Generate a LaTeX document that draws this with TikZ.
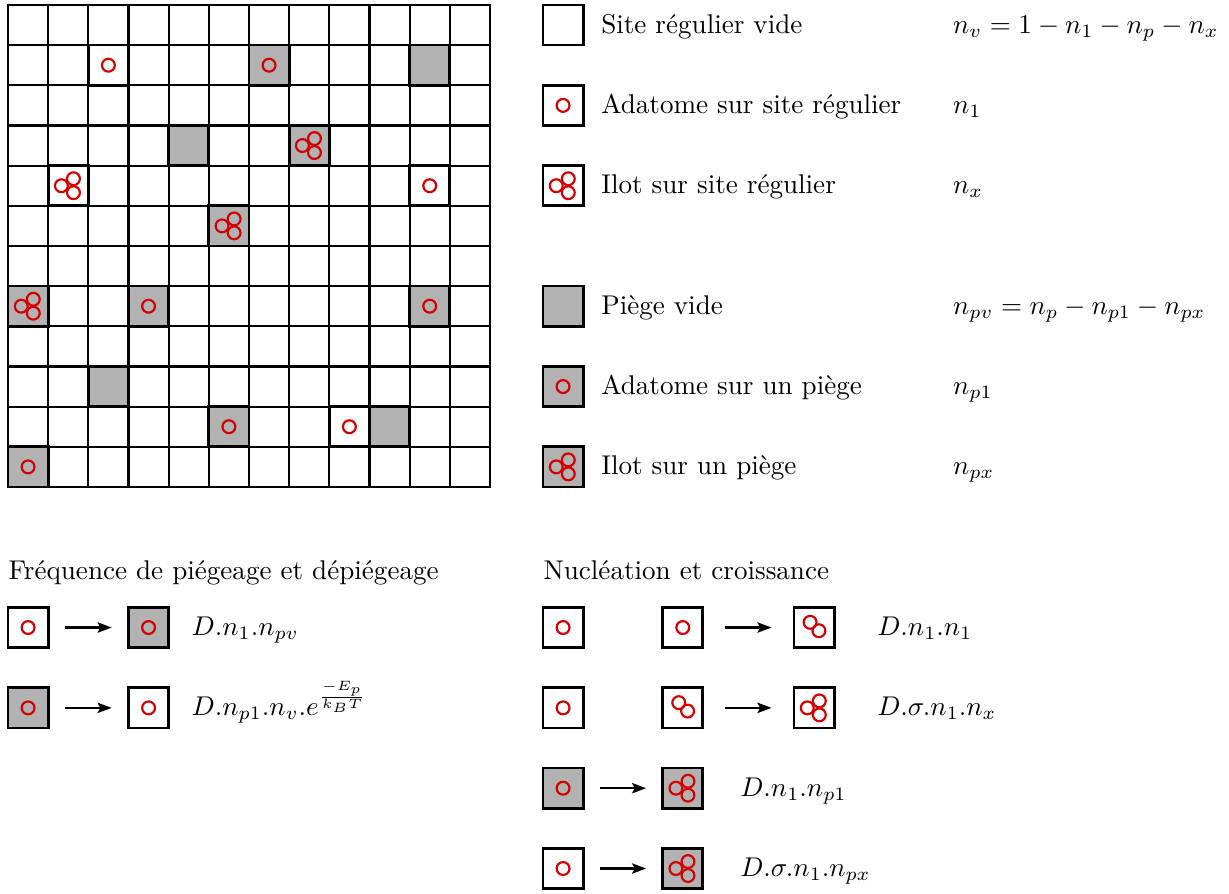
\documentclass[tikz,border=0pt]{standalone}
\usepackage{amsmath}
\usetikzlibrary{positioning,arrows.meta}
\definecolor{atomred}{RGB}{210,0,0}
\tikzset{
  site/.style={draw,line width=1pt,minimum size=0.521cm,inner sep=0pt,outer sep=0pt,fill=white},
  vide/.style={},
  piege/.style={fill=black!30},
  atomline/.style={draw=atomred,line width=0.8pt},
  ad/.style={path picture={\draw[atomline] (path picture bounding box.center) circle (0.16);}},
  ilot/.style={path picture={
    \foreach \a in {180,60,-60}
      \draw[atomline] ([shift={(0.03,0)}]path picture bounding box.center) ++(\a:0.2) circle (0.16);}},
  paire/.style={path picture={
    \draw[atomline] ([shift={(-0.1,0.13)}]path picture bounding box.center) circle (0.16);
    \draw[atomline] ([shift={(0.12,-0.08)}]path picture bounding box.center) circle (0.16);}},
  pv/.style={piege},
  pad/.style={piege,ad},
  pil/.style={piege,ilot},
  gridline/.style={line width=0.8pt},
  lbl/.style={anchor=base west,inner sep=0pt},
  fleche/.style={-{Stealth[length=5.2pt,width=3.8pt,inset=1pt]},line width=0.8pt,shorten <=#1,shorten >=#1},
  fleche/.default=6.2pt
}
\begin{document}
\begin{tikzpicture}[x=0.521cm,y=0.521cm]
  \useasboundingbox (-0.199,0.124) rectangle (30.40,-22.11);
  % surface
  \draw[gridline,step=0.521cm] (0,-12) grid (12,0);
  \draw[line width=1pt] (0,-12) rectangle (12,0);
  \foreach \n/\c/\r/\k in {g1/2/1/ad,g2/6/1/pad,g3/10/1/pv,g4/4/3/pv,g5/7/3/pil,g6/1/4/ilot,
      g7/10/4/ad,g8/5/5/pil,g9/0/7/pil,g10/3/7/pad,g11/10/7/pad,g12/2/9/pv,g13/5/10/pad,
      g14/8/10/ad,g15/9/10/pv,g16/0/11/pad}
    \node[site,\k] (\n) at (\c+0.5,-\r-0.5) {};

  % legende
  \foreach \n/\y/\k/\lab/\mth in {1/0/vide/{Site régulier vide}/{n_v = 1 - n_1 - n_p - n_x},
      2/2/ad/{Adatome sur site régulier}/{n_1},
      3/4/ilot/{Ilot sur site régulier}/{n_x},
      4/7/pv/{Piège vide}/{n_{pv} = n_p - n_{p1} - n_{px}},
      5/9/pad/{Adatome sur un piège}/{n_{p1}},
      6/11/pil/{Ilot sur un piège}/{n_{px}}}{
    \node[site,\k] (l\n) at (13.82,-\y-0.5) {};
    \node[lbl] (t\n) at ([xshift=6.5pt,yshift=-2.96pt]l\n.east) {\lab};
    \node[lbl] (m\n) at (23.52,-\y-0.7) {$\mth$};
  }

  % piegeage
  \node[lbl] (h1) at (0,-14.31) {Fréquence de piégeage et dépiégeage};
  \node[site,ad] (a1) at (0.5,-15.5) {};
  \node[site,pad] (b1) at (3.5,-15.5) {};
  \draw[fleche] (a1) -- (b1);
  \node[lbl] (f1) at (4.56,-15.7) {$D.n_1.n_{pv}$};
  \node[site,pad] (a2) at (0.5,-17.5) {};
  \node[site,ad] (b2) at (3.5,-17.5) {};
  \draw[fleche] (a2) -- (b2);
  \node[lbl] (f2) at (4.56,-17.7) {$D.n_{p1}.n_v.e^{\frac{-E_p}{k_B T}}$};

  % nucleation
  \node[lbl] (h2) at (13.32,-14.31) {Nucléation et croissance};
  \node[site,ad] (c1) at (13.82,-15.5) {};
  \node[site,ad] (d1) at (16.8,-15.5) {};
  \node[site,paire] (e1) at (20.07,-15.5) {};
  \draw[fleche=8.3pt] (d1) -- (e1);
  \node[lbl] (f3) at (21.63,-15.7) {$D.n_1.n_1$};
  \node[site,ad] (c2) at (13.82,-17.5) {};
  \node[site,paire] (d2) at (16.8,-17.5) {};
  \node[site,ilot] (e2) at (20.07,-17.5) {};
  \draw[fleche=8.3pt] (d2) -- (e2);
  \node[lbl] (f4) at (21.63,-17.7) {$D.\sigma.n_1.n_x$};
  \node[site,pad] (c3) at (13.82,-19.5) {};
  \node[site,pil] (d3) at (16.8,-19.5) {};
  \draw[fleche=6.1pt] (c3) -- (d3);
  \node[lbl] (f5) at (18.22,-19.7) {$D.n_1.n_{p1}$};
  \node[site,ad] (c4) at (13.82,-21.5) {};
  \node[site,pil] (d4) at (16.8,-21.5) {};
  \draw[fleche=6.1pt] (c4) -- (d4);
  \node[lbl] (f6) at (18.22,-21.7) {$D.\sigma.n_1.n_{px}$};
\end{tikzpicture}
\end{document}
